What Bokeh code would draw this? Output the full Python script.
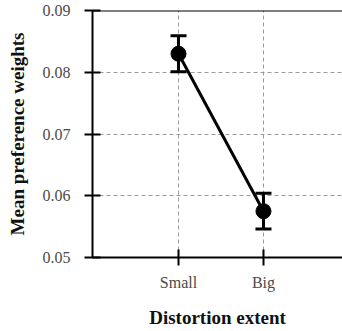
from bokeh.plotting import figure
from bokeh.models import ColumnDataSource, Whisker, TeeHead, FixedTicker, Range1d, Span
from bokeh.embed import file_html
from bokeh.resources import INLINE

categories = ["Small", "Big"]
x_pos = [1, 2]
means = [0.0830, 0.0575]
errors = [0.0029, 0.0029]
y_ticks = [0.05, 0.06, 0.07, 0.08, 0.09]

upper = [m + e for m, e in zip(means, errors)]
lower = [m - e for m, e in zip(means, errors)]
src = ColumnDataSource(dict(x=x_pos, y=means, upper=upper, lower=lower))

FONT = "Liberation Serif"

p = figure(width=342, height=331, output_backend="svg", toolbar_location=None,
           x_range=Range1d(-0.012, 2.93), y_range=Range1d(0.05, 0.09))
p.min_border_left = 92
p.min_border_top = 10
p.min_border_right = 0
p.min_border_bottom = 74
p.outline_line_color = None
p.background_fill_color = "white"
p.border_fill_color = "white"

# axes
p.xaxis.ticker = FixedTicker(ticks=x_pos)
p.xaxis.major_label_overrides = {xp: c for xp, c in zip(x_pos, categories)}
p.yaxis.ticker = FixedTicker(ticks=y_ticks)
p.yaxis.major_label_overrides = {t: f"{t:.2f}" for t in y_ticks}
for ax in (p.xaxis[0], p.yaxis[0]):
    ax.axis_line_color = "black"
    ax.axis_line_width = 2
    ax.major_tick_line_color = "black"
    ax.major_tick_line_width = 2
    ax.major_tick_in = 8
    ax.major_tick_out = 8
    ax.minor_tick_line_color = None
    ax.major_label_text_font = FONT
    ax.major_label_text_font_size = "16px"
    ax.major_label_text_color = "#4a4a4a"
    ax.axis_label_text_font = FONT
    ax.axis_label_text_font_style = "bold"
    ax.axis_label_text_font_size = "19px"
    ax.axis_label_text_color = "#111111"
p.xaxis.axis_label = "Distortion extent"
p.yaxis.axis_label = "Mean preference weights"
p.yaxis.major_label_standoff = 14
p.xaxis.major_label_standoff = 8
p.xaxis.axis_label_standoff = 13
p.yaxis.axis_label_standoff = 12

# grid
p.xgrid.ticker = FixedTicker(ticks=x_pos)
p.ygrid.ticker = FixedTicker(ticks=y_ticks)
for g in (p.xgrid[0], p.ygrid[0]):
    g.grid_line_color = "#9a9a9a"
    g.grid_line_dash = "4 3"
    g.grid_line_width = 1

# top border line
p.add_layout(Span(location=0.09, dimension="width", line_color="black", line_width=2))

# data
p.line("x", "y", source=src, line_color="black", line_width=3)
p.add_layout(Whisker(source=src, base="x", upper="upper", lower="lower",
                     line_color="black", line_width=3,
                     upper_head=TeeHead(size=16, line_width=3, line_color="black"),
                     lower_head=TeeHead(size=16, line_width=3, line_color="black")))
p.scatter("x", "y", source=src, size=15, fill_color="black", line_color="black")

open("out.html", "w").write(file_html(p, INLINE))
